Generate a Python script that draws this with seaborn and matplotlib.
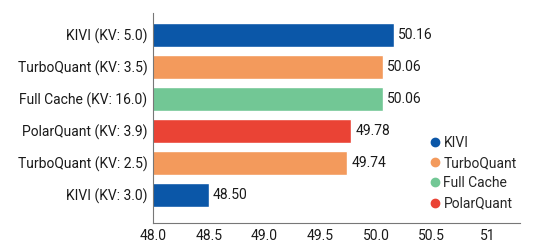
"""
KV cache quantization comparison - horizontal bar chart
"""
import pandas as pd
import matplotlib.pyplot as plt
import seaborn as sns
from matplotlib.lines import Line2D

sns.set_style("white")
plt.rcParams['font.family'] = ['Roboto', 'DejaVu Sans']

labels = ['KIVI (KV: 5.0)', 'TurboQuant (KV: 3.5)', 'Full Cache (KV: 16.0)',
          'PolarQuant (KV: 3.9)', 'TurboQuant (KV: 2.5)', 'KIVI (KV: 3.0)']
methods = ['KIVI', 'TurboQuant', 'Full Cache', 'PolarQuant', 'TurboQuant', 'KIVI']
scores = [50.16, 50.06, 50.06, 49.78, 49.74, 48.50]

legend_order = ['KIVI', 'TurboQuant', 'Full Cache', 'PolarQuant']
palette = {'KIVI': '#0b57a8', 'TurboQuant': '#f39a5c',
           'Full Cache': '#72c795', 'PolarQuant': '#ea4335'}

xticks = [48.0, 48.5, 49.0, 49.5, 50.0, 50.5, 51.0]
xticklabels = ['48.0', '48.5', '49.0', '49.5', '50.0', '50.5', '51']

df = pd.DataFrame({'label': labels, 'method': methods, 'score': scores})

fig = plt.figure(figsize=(5.4, 2.5), dpi=100)
ax = fig.add_axes([0.283, 0.108, 0.68, 0.84])

sns.barplot(data=df, y='label', x='score', hue='method', palette=palette,
            dodge=False, width=0.75, saturation=1, ax=ax, legend=False, orient='h')

ax.set_xlim(48.0, 51.29)
ax.set_ylim(5.87, -0.675)

for i, v in enumerate(scores):
    ax.text(v + 0.04, i, f'{v:.2f}', va='center', ha='left', fontsize=10, color='#1a1a1a')

ax.set_xticks(xticks)
ax.set_xticklabels(xticklabels, fontsize=10, color='#1a1a1a')
ax.tick_params(axis='y', labelsize=10, labelcolor='#1a1a1a', length=0, pad=4)
ax.tick_params(axis='x', length=0, pad=4)
ax.set_xlabel('')
ax.set_ylabel('')

for side in ['top', 'right']:
    ax.spines[side].set_visible(False)
for side in ['left', 'bottom']:
    ax.spines[side].set_color('#777777')
    ax.spines[side].set_linewidth(0.8)

handles = [Line2D([0], [0], marker='o', linestyle='', markersize=6,
                  markerfacecolor=palette[m], markeredgecolor=palette[m], label=m)
           for m in legend_order]
ax.legend(handles=handles, loc='lower right', bbox_to_anchor=(1.025, 0.0),
          frameon=False, fontsize=10, handletextpad=0.1, labelspacing=0.45,
          handlelength=1.0)

plt.savefig('out.png', dpi=100)
plt.close()
